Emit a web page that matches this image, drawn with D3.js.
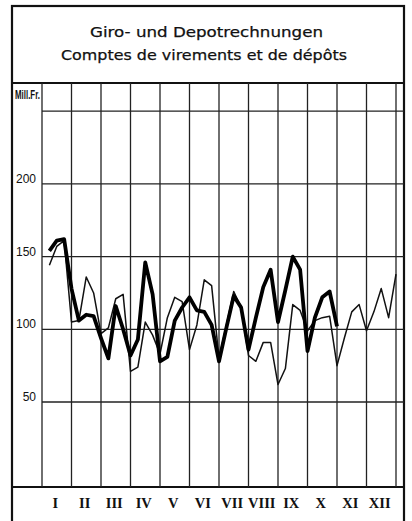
<!DOCTYPE html>
<html>
<head>
<meta charset="utf-8">
<script src="https://cdn.jsdelivr.net/npm/d3@7"></script>
<style>
  body { margin: 0; background: #fff; }
  svg { display: block; }
</style>
</head>
<body>
<div id="chart"></div>
<script>
// month labels and y ticks
const months = ["I", "II", "III", "IV", "V", "VI", "VII", "VIII", "IX", "X", "XI", "XII"];
const yTicks = [50, 100, 150, 200];
const yGrid = [50, 100, 150, 200, 250];

// weekly returns (7th, 15th, 23rd, end of month), Mill. Fr.
// thick line: current year, up to end of October
const thickValues = [154, 161, 162, 128, 106, 110, 109, 94, 80, 116, 100, 82,
                     93, 146, 124, 78, 81, 106, 115, 122, 113, 112, 103, 78,
                     101, 123, 115, 86, 108, 129, 141, 105, 127, 150, 141, 85,
                     108, 122, 126, 102];
// thin line: previous year, full 12 months
const thinValues = [144, 157, 161, 105, 106, 136, 125, 97, 101, 121, 124, 71,
                    74, 105, 96, 83, 108, 122, 119, 86, 103, 134, 130, 80,
                    103, 126, 115, 82, 78, 91, 91, 62, 73, 117, 113, 99,
                    106, 108, 109, 75, 94, 112, 117, 99, 112, 128, 108, 138];

function drawChart(id) {
    const width = 412;
    const height = 521;
    const frame = { left: 12, right: 404, top: 6 };
    const plot = { left: 42, right: 396, top: 83, bottom: 487 };

    const svg = d3.select(id).append("svg")
        .attr("width", width)
        .attr("height", height)
        .attr("viewBox", [0, 0, width, height]);

    // x in months (0..12), y in Mill. Fr.
    const x = d3.scaleLinear().domain([0, 12]).range([plot.left, plot.right]);
    const y = d3.scaleLinear().domain([0, 250]).range([474.7, 111.2]);

    // outer frame
    svg.append("rect")
        .attr("x", frame.left)
        .attr("y", frame.top)
        .attr("width", frame.right - frame.left)
        .attr("height", height)
        .attr("fill", "none")
        .attr("stroke", "#111")
        .attr("stroke-width", 2.2);

    // title separator and bottom axis line
    svg.append("line")
        .attr("x1", frame.left).attr("x2", frame.right)
        .attr("y1", plot.top).attr("y2", plot.top)
        .attr("stroke", "#111").attr("stroke-width", 1.8);
    svg.append("line")
        .attr("x1", frame.left).attr("x2", frame.right)
        .attr("y1", plot.bottom).attr("y2", plot.bottom)
        .attr("stroke", "#111").attr("stroke-width", 1.8);

    // title
    svg.append("text")
        .attr("x", 90).attr("y", 37)
        .attr("font-family", "DejaVu Sans, sans-serif")
        .attr("font-size", 14.5)
        .attr("fill", "#111")
        .attr("stroke", "#111")
        .attr("stroke-width", 0.25)
        .attr("textLength", 233)
        .attr("lengthAdjust", "spacingAndGlyphs")
        .text("Giro- und Depotrechnungen");
    svg.append("text")
        .attr("x", 61).attr("y", 60)
        .attr("font-family", "DejaVu Sans, sans-serif")
        .attr("font-size", 14.5)
        .attr("fill", "#111")
        .attr("stroke", "#111")
        .attr("stroke-width", 0.25)
        .attr("textLength", 286)
        .attr("lengthAdjust", "spacingAndGlyphs")
        .text("Comptes de virements et de dépôts");

    // horizontal grid
    svg.append("g")
        .selectAll("line")
        .data(yGrid)
        .join("line")
        .attr("x1", plot.left)
        .attr("x2", frame.right)
        .attr("y1", d => y(d))
        .attr("y2", d => y(d))
        .attr("stroke", "#222")
        .attr("stroke-width", 1.3);

    // vertical month lines
    svg.append("g")
        .selectAll("line")
        .data(d3.range(0, 13))
        .join("line")
        .attr("x1", d => x(d))
        .attr("x2", d => x(d))
        .attr("y1", plot.top)
        .attr("y2", plot.bottom)
        .attr("stroke", "#222")
        .attr("stroke-width", 1.3);

    // y labels
    svg.append("g")
        .selectAll("text")
        .data(yTicks)
        .join("text")
        .attr("x", 36)
        .attr("y", d => y(d) - 1)
        .attr("text-anchor", "end")
        .attr("font-family", "Liberation Sans, Arial, sans-serif")
        .attr("font-size", 12)
        .attr("fill", "#111")
        .text(d => d);

    svg.append("text")
        .attr("x", 15).attr("y", 99)
        .attr("font-family", "Liberation Sans Narrow, Liberation Sans, sans-serif")
        .attr("font-size", 12)
        .attr("font-weight", "bold")
        .attr("textLength", 25)
        .attr("lengthAdjust", "spacingAndGlyphs")
        .attr("fill", "#111")
        .text("Mill.Fr.");

    // month labels
    svg.append("g")
        .selectAll("text")
        .data(months)
        .join("text")
        .attr("x", (d, i) => x(i + 0.5) - 1.5)
        .attr("y", 508)
        .attr("text-anchor", "middle")
        .attr("font-family", "Liberation Serif, Times New Roman, serif")
        .attr("font-weight", "bold")
        .attr("font-size", 14.5)
        .attr("fill", "#111")
        .text(d => d);

    // lines: week index i sits at (i + 1) / 4 months
    const line = d3.line()
        .x((d, i) => x((i + 1) / 4))
        .y(d => y(d));

    svg.append("path")
        .datum(thinValues)
        .attr("fill", "none")
        .attr("stroke", "#111")
        .attr("stroke-width", 1.5)
        .attr("stroke-linejoin", "round")
        .attr("d", line);

    svg.append("path")
        .datum(thickValues)
        .attr("fill", "none")
        .attr("stroke", "#000")
        .attr("stroke-width", 3.8)
        .attr("stroke-linejoin", "round")
        .attr("d", line);
}

drawChart("#chart");
</script>
</body>
</html>
